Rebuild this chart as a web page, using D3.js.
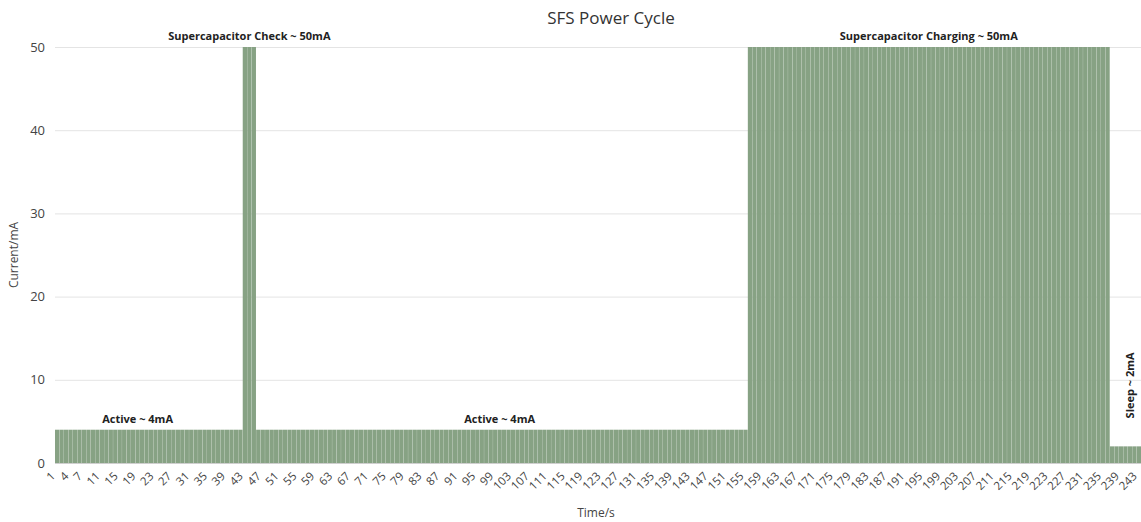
<!DOCTYPE html>
<html>
<head>
<meta charset="utf-8">
<script src="https://cdn.jsdelivr.net/npm/d3@7"></script>
<style>
    body { margin: 0; background: #fff; }
    text { font-family: "Open Sans", "Lato", sans-serif; }
</style>
</head>
<body>
<div id="chart"></div>
<script>
// time in seconds, one bar per second
let times = d3.range(1, 244);

// current draw in mA for each second
let current = [
    4,4,4,4,4,4,4,4,4,4,4,4,4,4,4,4,4,4,4,4,          // 1-20
    4,4,4,4,4,4,4,4,4,4,4,4,4,4,4,4,4,4,4,4,          // 21-40
    4,4,50,50,50,4,4,4,4,4,4,4,4,4,4,4,4,4,4,4,       // 41-60
    4,4,4,4,4,4,4,4,4,4,4,4,4,4,4,4,4,4,4,4,          // 61-80
    4,4,4,4,4,4,4,4,4,4,4,4,4,4,4,4,4,4,4,4,          // 81-100
    4,4,4,4,4,4,4,4,4,4,4,4,4,4,4,4,4,4,4,4,          // 101-120
    4,4,4,4,4,4,4,4,4,4,4,4,4,4,4,4,4,4,4,4,          // 121-140
    4,4,4,4,4,4,4,4,4,4,4,4,4,4,4,50,50,50,50,50,     // 141-160
    50,50,50,50,50,50,50,50,50,50,50,50,50,50,50,50,50,50,50,50, // 161-180
    50,50,50,50,50,50,50,50,50,50,50,50,50,50,50,50,50,50,50,50, // 181-200
    50,50,50,50,50,50,50,50,50,50,50,50,50,50,50,50,50,50,50,50, // 201-220
    50,50,50,50,50,50,50,50,50,50,50,50,50,50,50,50,2,2,2,2,     // 221-240
    2,2,2                                              // 241-243
];

let xTickLabels = [1,4,7,11,15,19,23,27,31,35,39,43,47,51,55,59,63,67,71,75,79,83,87,91,95,99,
    103,107,111,115,119,123,127,131,135,139,143,147,151,155,159,163,167,171,175,179,183,187,191,
    195,199,203,207,211,215,219,223,227,231,235,239,243];
let yTicks = [0, 10, 20, 30, 40, 50];

// phase annotations: text, time they sit over, current they sit above
let noteText = ["Supercapacitor Check ~ 50mA", "Active ~ 4mA", "Active ~ 4mA", "Supercapacitor Charging ~ 50mA", "Sleep ~ 2mA"];
let noteTime = [44, 19, 100, 196, 241];
let noteValue = [50, 4, 4, 50, 2];

let data = times.map((t, i) => ({time: t, value: current[i]}));

let width = 1141, height = 522;
let margin = {top: 47, right: 0, bottom: 59, left: 55};

let svg = d3.select("#chart").append("svg")
    .attr("width", width)
    .attr("height", height);

let x = d3.scaleBand()
    .domain(times)
    .range([margin.left, width - margin.right])
    .paddingInner(0.04)
    .paddingOuter(0);

let y = d3.scaleLinear()
    .domain([0, 50])
    .range([height - margin.bottom, margin.top]);

// gridlines
svg.append("g")
    .selectAll("line")
    .data(yTicks)
    .enter()
    .append("line")
    .attr("x1", margin.left)
    .attr("x2", width)
    .attr("y1", d => y(d) + 0.5)
    .attr("y2", d => y(d) + 0.5)
    .attr("stroke", d => d === 0 ? "#cfcfcf" : "#e4e4e4")
    .attr("stroke-width", 1);

// bars
svg.append("g")
    .selectAll("rect")
    .data(data)
    .enter()
    .append("rect")
    .attr("x", d => x(d.time))
    .attr("width", x.bandwidth())
    .attr("y", d => y(d.value))
    .attr("height", d => y(0) - y(d.value))
    .attr("fill", "#87a284");

// y axis
let yAxis = d3.axisLeft(y).tickValues(yTicks).tickSize(0).tickPadding(10);
let yAxisGroup = svg.append("g")
    .attr("transform", "translate(" + (margin.left) + ",0)")
    .call(yAxis);
yAxisGroup.select(".domain").remove();
yAxisGroup.selectAll("text")
    .style("font-size", "13px")
    .attr("fill", "#444");

// x axis
let xAxis = d3.axisBottom(x).tickValues(xTickLabels).tickSize(0).tickPadding(0);
let xAxisGroup = svg.append("g")
    .attr("transform", "translate(0," + (height - margin.bottom + 4) + ")")
    .call(xAxis);
xAxisGroup.select(".domain").remove();
xAxisGroup.selectAll("text")
    .style("font-size", "11.5px")
    .attr("fill", "#444")
    .attr("dy", "0.35em")
    .attr("y", 0)
    .attr("transform", "translate(-4,7) rotate(-45)")
    .style("text-anchor", "end");

// titles
svg.append("text")
    .attr("x", 611)
    .attr("y", 24)
    .style("text-anchor", "middle")
    .style("font-size", "17px")
    .attr("fill", "#333")
    .text("SFS Power Cycle");

svg.append("text")
    .attr("transform", "translate(18," + ((margin.top + height - margin.bottom) / 2) + ") rotate(-90)")
    .style("text-anchor", "middle")
    .style("font-size", "12px")
    .attr("fill", "#444")
    .text("Current/mA");

svg.append("text")
    .attr("x", 596)
    .attr("y", 517)
    .style("text-anchor", "middle")
    .style("font-size", "12px")
    .attr("fill", "#444")
    .text("Time/s");

// annotations
noteText.forEach((txt, i) => {
    let cx = x(noteTime[i]) + x.bandwidth() / 2;
    let t = svg.append("text")
        .style("font-size", "11px")
        .style("font-weight", "bold")
        .attr("fill", "#222")
        .text(txt);
    if (txt.startsWith("Sleep")) {
        t.attr("transform", "translate(" + (cx + 4) + "," + (y(noteValue[i]) - 61) + ") rotate(-90)")
            .style("text-anchor", "middle");
    } else {
        t.attr("x", cx)
            .attr("y", y(noteValue[i]) - 7)
            .style("text-anchor", "middle");
    }
});
</script>
</body>
</html>
